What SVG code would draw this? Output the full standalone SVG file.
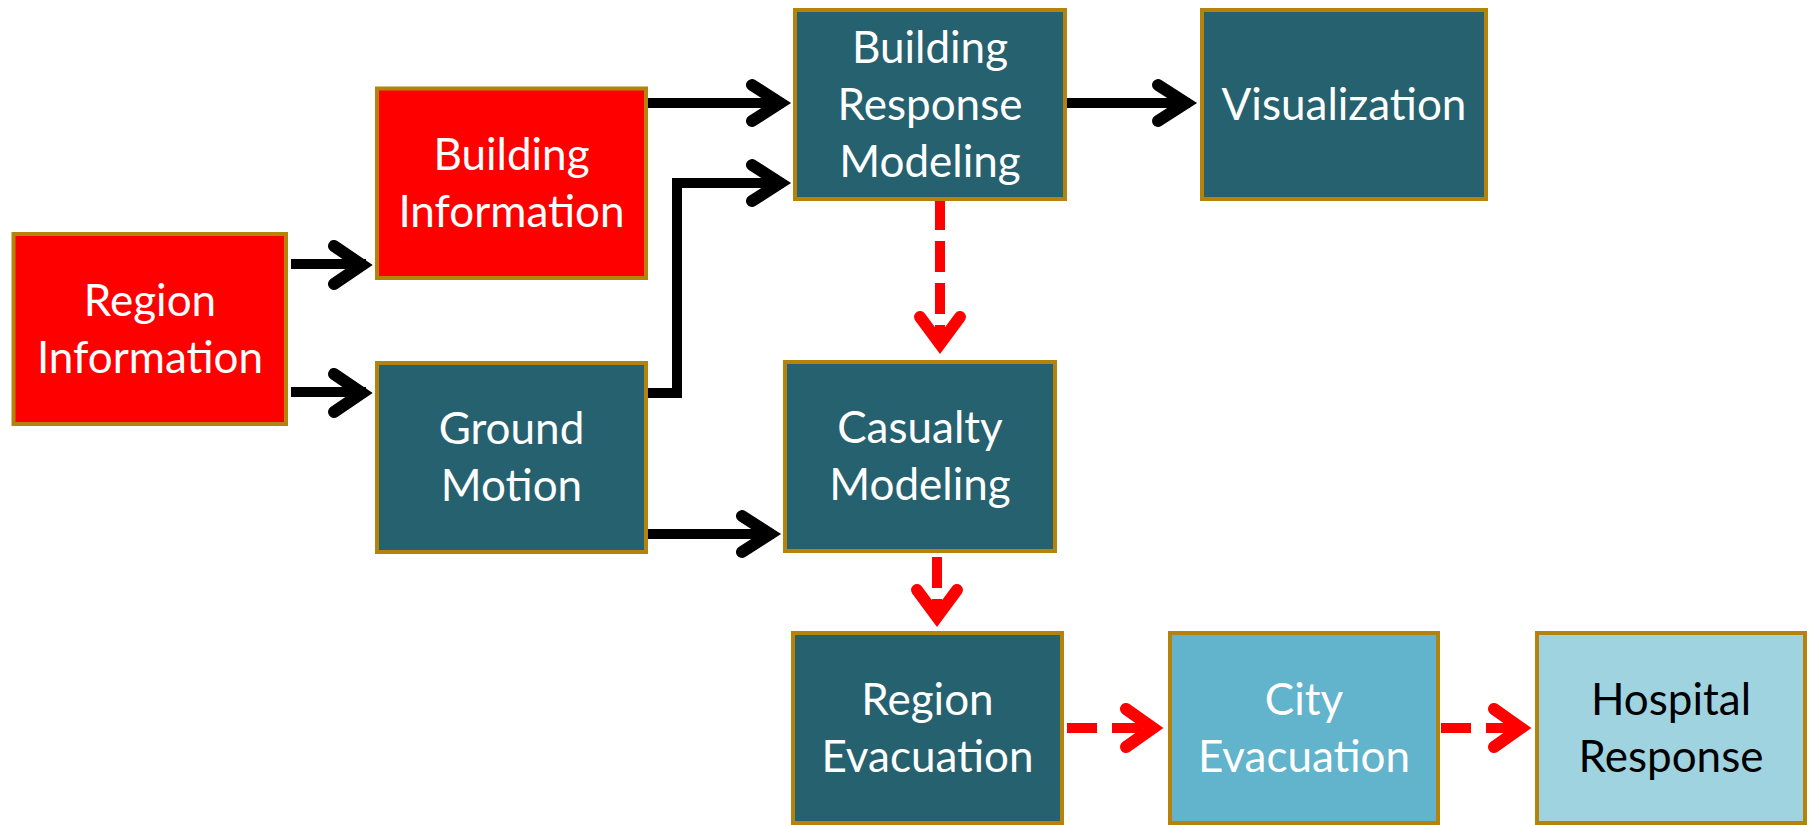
<svg xmlns="http://www.w3.org/2000/svg" width="1809" height="825" viewBox="0 0 1809 825">
  <style>
    .box { stroke: #B5830B; stroke-width: 4; }
    .red { fill: #FF0000; }
    .teal { fill: #26616F; }
    .city { fill: #62B3CC; }
    .hosp { fill: #A0D3E0; }
    .lbl { font-family: Lato, "Open Sans", "Liberation Sans", sans-serif; font-size: 44px; fill: #FFFFFF; text-anchor: middle; }
    .dark { fill: #000000; }
    .line { fill: none; stroke: #000000; stroke-width: 10; stroke-linecap: butt; }
    .head { fill: none; stroke: #000000; stroke-width: 12; stroke-linecap: round; stroke-linejoin: miter; }
    .dline { fill: none; stroke: #FF0000; stroke-width: 10; stroke-dasharray: 31 11; }
    .rhead { fill: none; stroke: #FF0000; stroke-width: 12; stroke-linecap: round; stroke-linejoin: miter; }
  </style>

  <rect width="1809" height="825" fill="#FFFFFF"/>

  <g id="connectors">
    <!-- Region Information -> Building Information -->
    <path class="line" d="M291 264 H366"/>
    <path class="head" d="M334 246 L362 265 L334 284"/>
    <!-- Region Information -> Ground Motion -->
    <path class="line" d="M291 392 H366"/>
    <path class="head" d="M334 374 L362 393 L334 412"/>
    <!-- Building Information -> Building Response Modeling -->
    <path class="line" d="M648 103 H784"/>
    <path class="head" d="M752 85 L780 103 L752 121"/>
    <!-- Ground Motion -> Building Response Modeling (elbow) -->
    <path class="line" d="M644 393 H682 M677 398 V178 M672 183 H784"/>
    <path class="head" d="M752 165 L780 183 L752 201"/>
    <!-- Ground Motion -> Casualty Modeling -->
    <path class="line" d="M648 534 H774"/>
    <path class="head" d="M742 516 L770 534 L742 552"/>
    <!-- Building Response Modeling -> Visualization -->
    <path class="line" d="M1067 103 H1190"/>
    <path class="head" d="M1158 85 L1186 103 L1158 121"/>

    <!-- Building Response Modeling -> Casualty Modeling (dashed) -->
    <path class="dline" d="M940 199 V346"/>
    <path class="rhead" d="M920 317 L940 344 L960 317"/>
    <!-- Casualty Modeling -> Region Evacuation (dashed) -->
    <path class="dline" d="M937 557 V618"/>
    <path class="rhead" d="M917 590 L937 617 L957 590"/>
    <!-- Region Evacuation -> City Evacuation (dashed) -->
    <path class="dline" d="M1067 728 H1156" style="stroke-dasharray:30 15"/>
    <path class="rhead" d="M1126 709 L1153 728 L1126 747"/>
    <!-- City Evacuation -> Hospital Response (dashed) -->
    <path class="dline" d="M1441 728 H1524" style="stroke-dasharray:30 15"/>
    <path class="rhead" d="M1494 709 L1521 728 L1494 747"/>
  </g>

  <g id="region-information">
    <rect class="box red" x="13.5" y="234" width="272.5" height="190"/>
    <text class="lbl" x="150" y="315.5">Region</text>
    <text class="lbl" x="150" y="372.5">Information</text>
  </g>

  <g id="building-information">
    <rect class="box red" x="377" y="88.5" width="269" height="189.5"/>
    <text class="lbl" x="511.5" y="169.5">Building</text>
    <text class="lbl" x="511.5" y="226.5">Information</text>
  </g>

  <g id="ground-motion">
    <rect class="box teal" x="377" y="363" width="269" height="189"/>
    <text class="lbl" x="511.5" y="444">Ground</text>
    <text class="lbl" x="511.5" y="501">Motion</text>
  </g>

  <g id="building-response-modeling">
    <rect class="box teal" x="795" y="10" width="270" height="189"/>
    <text class="lbl" x="930" y="62.5">Building</text>
    <text class="lbl" x="930" y="119.5">Response</text>
    <text class="lbl" x="930" y="176.5">Modeling</text>
  </g>

  <g id="visualization">
    <rect class="box teal" x="1202" y="10" width="284" height="189"/>
    <text class="lbl" x="1344" y="119.5">Visualization</text>
  </g>

  <g id="casualty-modeling">
    <rect class="box teal" x="785" y="362" width="270" height="189"/>
    <text class="lbl" x="920" y="443">Casualty</text>
    <text class="lbl" x="920" y="500">Modeling</text>
  </g>

  <g id="region-evacuation">
    <rect class="box teal" x="793" y="633" width="269" height="190"/>
    <text class="lbl" x="927.5" y="714.5">Region</text>
    <text class="lbl" x="927.5" y="771.5">Evacuation</text>
  </g>

  <g id="city-evacuation">
    <rect class="box city" x="1170" y="633" width="268" height="190"/>
    <text class="lbl" x="1304" y="714.5">City</text>
    <text class="lbl" x="1304" y="771.5">Evacuation</text>
  </g>

  <g id="hospital-response">
    <rect class="box hosp" x="1537" y="633" width="268" height="190"/>
    <text class="lbl dark" x="1671" y="714.5">Hospital</text>
    <text class="lbl dark" x="1671" y="771.5">Response</text>
  </g>
</svg>
